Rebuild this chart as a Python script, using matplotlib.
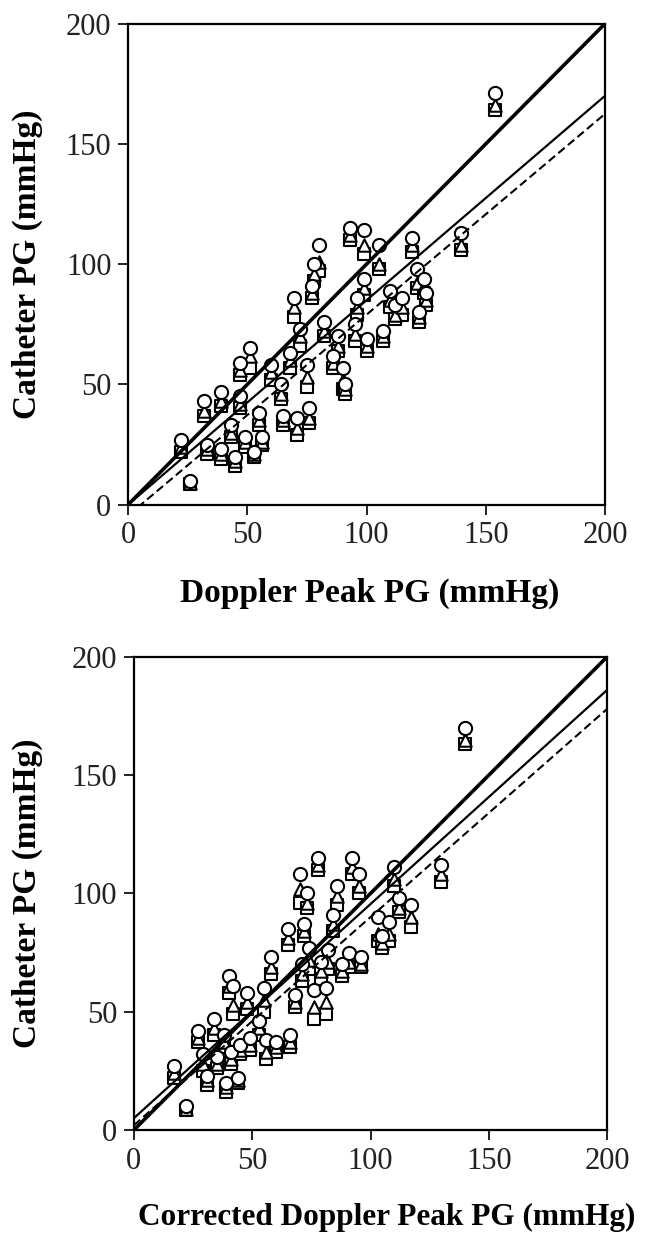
# Doppler vs catheter pressure gradients, two stacked scatter panels
import matplotlib
matplotlib.use("Agg")
from matplotlib import pyplot as plt
import numpy as np

plt.rcParams['font.family'] = ['Liberation Serif', 'DejaVu Serif']

# top panel: Doppler peak PG vs catheter PG (circle / triangle / square per patient)
dop_x = [22, 26, 32, 33, 39, 39, 43, 45, 47, 47, 49, 51, 53, 55, 56, 60, 64, 65, 68, 69.5,
         71, 72, 75, 76, 78, 80, 77, 82, 86, 88, 90, 91, 93, 95, 96, 99, 99, 100, 105, 107,
         110, 112, 115, 119, 121, 122, 124, 125, 139.5, 154]
dop_circle = [27, 10, 43, 25, 47, 23, 33, 20, 59, 45, 28, 65, 22, 38, 28, 58, 50, 37, 63, 86,
              36, 73, 58, 40, 100, 108, 91, 76, 62, 70, 57, 50, 115, 75, 86, 114, 94, 69, 108, 72,
              89, 83, 86, 111, 98, 80, 94, 88, 113, 171]
dop_tri = [24, 9, 39, 23, 43, 21, 30, 18, 56, 42, 26, 62, 21, 35, 26, 55, 46, 35, 60, 82,
           32, 70, 53, 36, 96, 101, 88, 72, 59, 66, 52, 48, 112, 71, 82, 108, 90, 66, 100, 70,
           85, 79, 82, 108, 92, 78, 91, 85, 108, 166]
dop_square = [22, 8.5, 37, 21, 41, 19, 28, 16, 54, 40, 24, 57, 20, 33, 25, 52, 44, 33, 57, 78,
              29, 66, 49, 34, 93, 97, 86, 70, 57, 64, 48, 46, 110, 68, 79, 104, 87, 64, 98, 68,
              82, 77, 79, 105, 90, 76, 88, 83, 106, 164]

# bottom panel: corrected Doppler peak PG vs catheter PG
cor_x = [17, 22, 27, 29, 31, 34, 35, 38, 39, 40, 41, 42, 44, 45, 48, 49, 53, 55, 56, 58,
         60, 66, 65, 68, 70, 71, 72, 73, 74, 76, 78, 79, 81, 82, 84, 86, 88, 91, 92, 95,
         96, 103, 105, 108, 110, 112, 117, 130, 140]
cor_circle = [27, 10, 42, 32, 23, 47, 31, 40, 20, 65, 33, 61, 22, 36, 58, 39, 46, 60, 38, 73,
              37, 40, 85, 57, 108, 70, 87, 100, 77, 59, 115, 71, 60, 76, 91, 103, 70, 75, 115, 108,
              73, 90, 82, 88, 111, 98, 95, 112, 170]
cor_tri = [24, 9, 39, 28, 21, 43, 28, 37, 18, 61, 30, 53, 21, 34, 54, 36, 43, 55, 33, 69,
           35, 37, 81, 54, 102, 66, 84, 96, 72, 52, 112, 67, 54, 71, 87, 99, 67, 71, 111, 103,
           70, 83, 79, 83, 106, 94, 90, 108, 165]
cor_square = [22, 8.5, 37, 25, 19, 40, 26, 35, 16, 58, 28, 49, 20, 32, 51, 34, 40, 50, 30, 66,
              33, 35, 78, 52, 96, 63, 82, 94, 68, 47, 110, 64, 49, 68, 84, 95, 65, 69, 108, 100,
              69, 80, 77, 80, 103, 92, 86, 105, 163]

# regression lines (slope, intercept): solid thin and dashed
top_fit = (0.85, 0.0)
top_dash = (0.835, -4.5)
bot_fit = (0.905, 5.0)
bot_dash = (0.88, 2.0)

fig = plt.figure(figsize=(6.5, 12.37), dpi=100)
ax1 = fig.add_axes([0.197, 0.592, 0.734, 0.389])
ax2 = fig.add_axes([0.206, 0.0865, 0.728, 0.3825])


def draw_panel(ax, x, yc, yt, ys, fit, dash, xlabel, xlab_size, xlab_pos, ylab_x):
    ax.scatter(x, ys, marker='s', s=80, facecolors='white', edgecolors='black', linewidths=1.5, zorder=3)
    ax.scatter(x, yt, marker='^', s=80, facecolors='white', edgecolors='black', linewidths=1.5, zorder=4)
    ax.scatter(x, yc, marker='o', s=90, facecolors='white', edgecolors='black', linewidths=1.5, zorder=5)
    xx = np.array([0, 200])
    ax.plot(xx, xx, color='black', lw=2.6, zorder=6)
    ax.plot(xx, fit[0] * xx + fit[1], color='black', lw=1.6, zorder=6)
    ax.plot(xx, dash[0] * xx + dash[1], color='black', lw=1.5, linestyle=(0, (4, 2)), zorder=6)
    ax.set_xlim(0, 200)
    ax.set_ylim(0, 200)
    ax.set_xticks([0, 50, 100, 150, 200])
    ax.set_yticks([0, 50, 100, 150, 200])
    for sp in ax.spines.values():
        sp.set_linewidth(1.6)
    ax.tick_params(direction='out', length=7, width=1.4, labelsize=22, pad=5, colors='#222222')
    ax.set_xlabel(xlabel, fontsize=xlab_size, fontweight='bold')
    ax.set_ylabel("Catheter PG (mmHg)", fontsize=24, fontweight='bold')
    ax.xaxis.set_label_coords(xlab_pos[0], xlab_pos[1])
    ax.yaxis.set_label_coords(ylab_x, 0.5)


draw_panel(ax1, dop_x, dop_circle, dop_tri, dop_square, top_fit, top_dash,
           "Doppler Peak PG (mmHg)", 24, (0.507, -0.151), -0.178)
draw_panel(ax2, cor_x, cor_circle, cor_tri, cor_square, bot_fit, bot_dash,
           "Corrected Doppler Peak PG (mmHg)", 22.5, (0.535, -0.154), -0.192)

fig.savefig("out.png", dpi=100)
